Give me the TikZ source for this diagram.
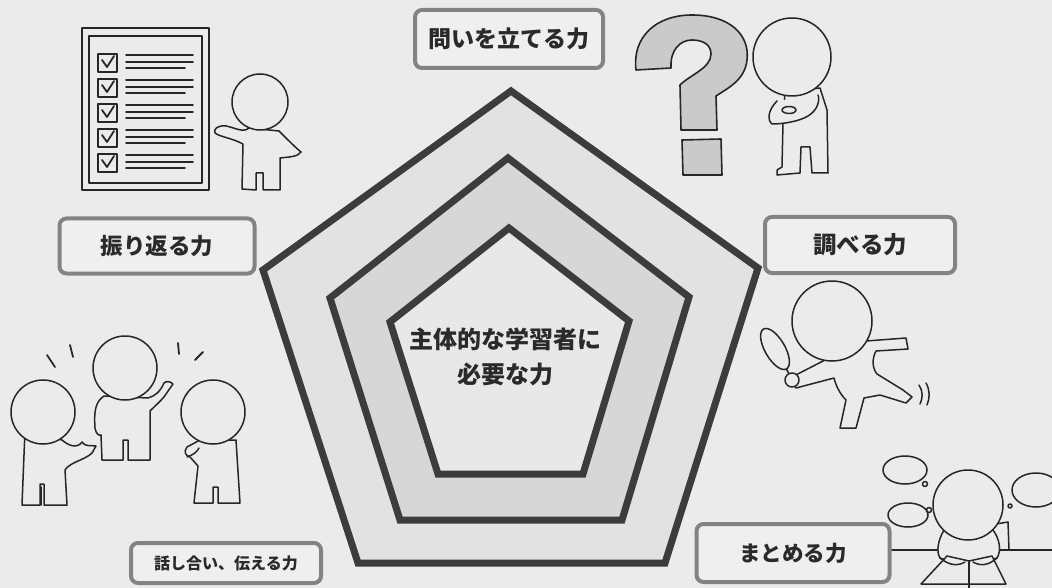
\documentclass[tikz,border=0pt]{standalone}
\usepackage{fontspec}
\newfontfamily\jp{Noto Sans CJK JP}
\definecolor{bgc}{HTML}{EBEBEB}
\definecolor{penline}{HTML}{3C3C3C}
\definecolor{ringA}{HTML}{E2E2E2}
\definecolor{ringB}{HTML}{D7D7D7}
\definecolor{core}{HTML}{E8E8E8}
\definecolor{boxline}{HTML}{838383}
\definecolor{boxfill}{HTML}{EFEFEF}
\definecolor{qfill}{HTML}{CACACA}
\definecolor{ink}{HTML}{2A2A2A}
\tikzset{
  pent/.style={draw=penline, line width=7pt, line join=miter},
  lab/.style={draw=boxline, line width=4pt, rounded corners=7pt, fill=boxfill,
              text=ink, inner sep=0pt, font=\jp\bfseries},
  fig/.style={draw=black!85, line width=1.5pt, fill=bgc, line join=round, line cap=round},
  thin/.style={draw=black!85, line width=1.5pt, line cap=round, line join=round},
}
\begin{document}
\begin{tikzpicture}[x=1pt,y=-1pt]
\useasboundingbox (0,0) rectangle (1052,588);
\fill[bgc] (0,0) rectangle (1052,588);

% three nested pentagons
\draw[pent, fill=ringA] (511,91) -- (758,268) -- (665,563) -- (358,563) -- (263,270) -- cycle;
\draw[pent, fill=ringB] (508,158) -- (689,297) -- (622,520) -- (400,520) -- (330,298) -- cycle;
\draw[pent, fill=core] (509,228) -- (629,321) -- (583,474) -- (438,474) -- (390,322) -- cycle;
\node[text=ink, font=\jp\bfseries\fontsize{24}{35}\selectfont, align=center] (core) at (505,357)
  {主体的な学習者に\\必要な力};

% labels
\node[lab, minimum width=188pt, minimum height=58pt, font=\jp\bfseries\fontsize{23}{28}\selectfont] (toi) at (509,39) {問いを立てる力};
\node[lab, minimum width=195pt, minimum height=55pt, font=\jp\bfseries\fontsize{22.5}{28}\selectfont] (furi) at (157,246) {振り返る力};
\node[lab, minimum width=190pt, minimum height=56pt, font=\jp\bfseries\fontsize{23.5}{28}\selectfont] (shira) at (860,245) {調べる力};
\node[lab, minimum width=190pt, minimum height=40pt, font=\jp\bfseries\fontsize{16}{20}\selectfont] (hanashi) at (226,563) {話し合い、伝える力};
\node[lab, minimum width=193pt, minimum height=58pt, font=\jp\bfseries\fontsize{21.5}{26}\selectfont] (matome) at (793,553) {まとめる力};

% checklist board
\draw[thin, fill=bgc] (82,28) rectangle (209,190);
\draw[thin] (89,36) rectangle (202,183);
\foreach \c in {63,88,113,138,163}{
  \draw[thin, fill=bgc] (98,\c-9) rectangle (117,\c+9);
  \draw[thin, line width=1.8pt] (102,\c-3) -- (107,\c+4) -- (114,\c-7);
  \draw[thin, line width=1.8pt] (126,\c-8) -- (193,\c-8);
  \draw[thin, line width=1.8pt] (126,\c-1) -- (193,\c-1);
  \draw[thin, line width=1.8pt] (126,\c+5) -- (185,\c+5);
}
% person pointing at the board
\draw[fig] (249,128) .. controls (243,133) and (236,128) .. (226,126)
  .. controls (218,125) and (213,129) .. (215,133)
  .. controls (220,137) and (232,138) .. (243,144)
  -- (242,189) -- (256,190) -- (256,173) -- (263,173) -- (263,190) -- (280,190) -- (280,158)
  .. controls (288,157) and (298,157) .. (301,152)
  .. controls (296,148) and (288,140) .. (279,131) -- cycle;
\draw[fig] (260,102) circle (28pt);

% question mark
\draw[fig, fill=qfill, line width=1.6pt]
  (636,70) .. controls (632,38) and (655,15) .. (692,15)
  .. controls (730,15) and (750,35) .. (747,60)
  .. controls (745,80) and (728,88) .. (716,96)
  -- (717,130) -- (681,130) -- (680,85)
  .. controls (690,75) and (711,68) .. (711,54)
  .. controls (711,44) and (702,40) .. (692,40)
  .. controls (680,40) and (670,50) .. (671,68) -- cycle;
\draw[fig, fill=qfill, line width=1.6pt] (682,140) -- (721,139) -- (722,175) -- (683,175) -- cycle;

% thinking person
\draw[fig] (785,92) -- (783,123) -- (782,167) -- (777,170) -- (777,175) -- (800,173) -- (801,147)
  -- (810,147) -- (812,173) -- (828,173) -- (827,110) -- (820,88) -- cycle;
\draw[fig] (792,57) circle (39pt);
\draw[fig] (777,101) .. controls (768,110) and (767,120) .. (772,124)
  .. controls (784,124) and (800,121) .. (808,116) .. controls (818,110) and (820,100) .. (818,95);
\draw[fig] (789,110) ellipse [x radius=7pt, y radius=3.5pt];

% three people talking
\draw[fig] (25,430) -- (22,505) -- (40,505) -- (40,484) -- (44,484) -- (44,505) -- (67,505) -- (65,470)
  .. controls (70,462) and (85,460) .. (92,453) -- (96,446)
  .. controls (90,445) and (85,447) .. (82,442) .. controls (78,448) and (70,447) .. (62,440) -- cycle;
\draw[fig] (43,412) circle (32pt);
\draw[thin] (41,487) -- (41,505);
\draw[fig] (104,396) .. controls (95,402) and (94,412) .. (95,428) .. controls (96,434) and (99,436) .. (101,435)
  -- (102,460) -- (123,460) -- (123,440) -- (128,440) -- (128,460) -- (150,460) -- (150,411)
  .. controls (156,405) and (163,399) .. (166,394) -- (173,384) .. controls (170,381) and (166,381) .. (164,383)
  .. controls (160,392) and (155,396) .. (148,398) -- cycle;
\draw[fig] (125,368) circle (32pt);
\draw[fig] (200,440) -- (187,447) .. controls (183,452) and (186,456) .. (190,457) -- (198,466)
  -- (194,503) -- (213,503) -- (213,487) -- (218,487) -- (218,503) -- (240,503) -- (236,440) -- cycle;
\draw[fig] (213,412) circle (32pt);
\draw[thin] (187,457) .. controls (193,455) and (197,452) .. (199,448);
\draw[thin, line width=1.8pt] (47,355) -- (55,367);
\draw[thin, line width=1.8pt] (70,345) -- (73,357);
\draw[thin, line width=1.8pt] (178,343) -- (179,354);
\draw[thin, line width=1.8pt] (203,352) -- (195,360);

% running person with a magnifier
\draw[fig] (850,350) -- (866,341) -- (906,338) -- (908,349) -- (876,351)
  .. controls (872,358) and (872,368) .. (877,374) -- (903,390) -- (912,397) -- (906,403)
  -- (880,395) -- (864,398) -- (856,428) -- (840,428) -- (846,400)
  .. controls (840,394) and (836,386) .. (834,378) -- (796,388) -- (790,378) -- (825,360) -- cycle;
\draw[fig] (832,321) circle (40pt);
\draw[fig] (785,367) -- (795,384);
\draw[fig] (792,380) ellipse [x radius=7pt, y radius=7pt];
\draw[fig, rotate around={30:(775,349)}] (775,349) ellipse [x radius=10pt, y radius=23pt];
\draw[thin] (919,385) .. controls (923,391) and (923,398) .. (920,404);
\draw[thin] (926,383) .. controls (930,390) and (930,398) .. (927,405);

% reading person at a desk
\draw[thin] (892,550) -- (1052,550);
\draw[fig] (996,524) -- (1008,522) -- (1009,550);
\draw[fig] (944,530) .. controls (938,540) and (936,552) .. (940,558) -- (955,563)
  -- (980,563) -- (997,558) .. controls (1002,550) and (999,538) .. (993,530) -- cycle;
\draw[fig] (968,505) circle (35pt);
\draw[fig] (921,584) -- (947,556) -- (969,561) -- (992,556) -- (1006,584) -- cycle;
\draw[thin] (969,561) -- (969,588);
\draw[thin] (940,558) .. controls (950,566) and (958,566) .. (965,562);
\draw[thin] (997,558) .. controls (988,566) and (980,566) .. (973,562);
% thought bubbles
\draw[fig] (905,470) ellipse [x radius=22pt, y radius=14pt];
\draw[thin] (925,484) circle (2.5pt);
\draw[fig] (908,515) ellipse [x radius=20pt, y radius=12pt];
\draw[thin] (929,510) circle (2.5pt);
\draw[fig] (1036,490) ellipse [x radius=24pt, y radius=17pt];
\draw[thin] (1010,506) circle (2pt);
\end{tikzpicture}
\end{document}
